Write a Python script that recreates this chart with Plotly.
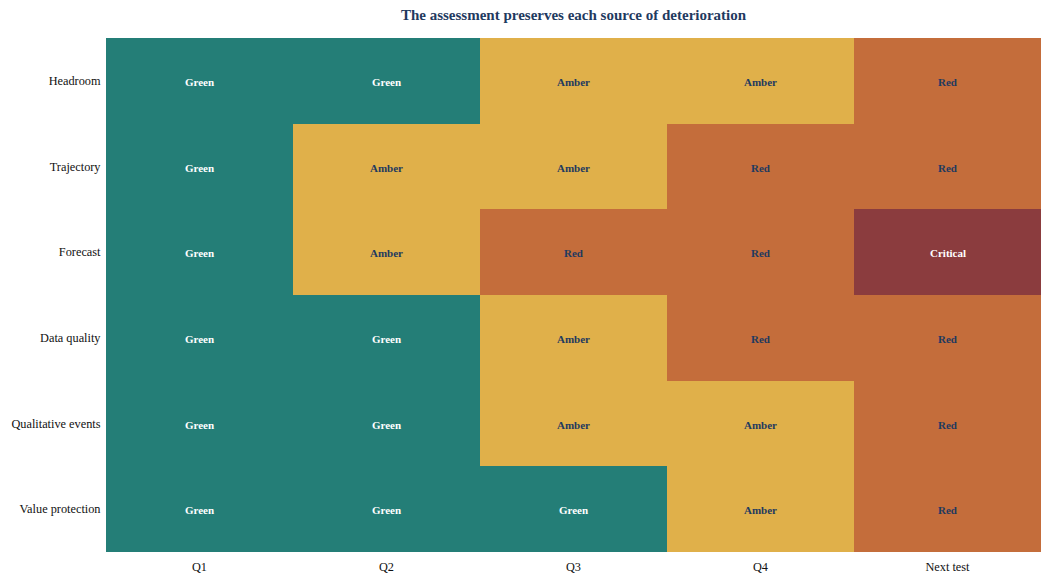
import plotly.graph_objects as go

quarters = ["Q1", "Q2", "Q3", "Q4", "Next test"]
sources = ["Headroom", "Trajectory", "Forecast", "Data quality",
           "Qualitative events", "Value protection"]

# rating per source, one entry per quarter
ratings = [
    ["Green", "Green", "Amber", "Amber", "Red"],
    ["Green", "Amber", "Amber", "Red", "Red"],
    ["Green", "Amber", "Red", "Red", "Critical"],
    ["Green", "Green", "Amber", "Red", "Red"],
    ["Green", "Green", "Amber", "Amber", "Red"],
    ["Green", "Green", "Green", "Amber", "Red"],
]

levels = ["Green", "Amber", "Red", "Critical"]
level_colors = ["#247e77", "#e0b04a", "#c46d3b", "#8b3c3e"]
text_colors = {"Green": "#ffffff", "Amber": "#1f3a5f",
               "Red": "#1f3a5f", "Critical": "#ffffff"}

z = [[levels.index(r) for r in row] for row in ratings]

n = len(levels)
colorscale = []
for i, c in enumerate(level_colors):
    colorscale.append([i / n, c])
    colorscale.append([(i + 1) / n, c])

fig = go.Figure()
fig.add_trace(go.Heatmap(
    z=z, x=quarters, y=sources,
    zmin=-0.5, zmax=n - 0.5,
    colorscale=colorscale, showscale=False,
    xgap=0, ygap=0, hoverinfo="skip",
))

for i, src in enumerate(sources):
    for j, q in enumerate(quarters):
        r = ratings[i][j]
        fig.add_annotation(x=q, y=src, text="<b>" + r + "</b>", showarrow=False,
                           yshift=-1,
                           font=dict(size=11, color=text_colors[r],
                                     family="Liberation Serif"))

fig.update_layout(
    width=1050, height=579,
    margin=dict(l=98, r=17, t=30, b=35, autoexpand=False),
    paper_bgcolor="white", plot_bgcolor="white",
    font=dict(family="Liberation Serif", size=12.3, color="#111111"),
    title=dict(text="<b>The assessment preserves each source of deterioration</b>",
               x=0.5386, xanchor="center", y=0.988, yanchor="middle",
               font=dict(size=15, color="#1f3a5f")),
)
fig.update_xaxes(showgrid=False, zeroline=False, showline=False, automargin=False,
                 ticks="outside", ticklen=3, tickcolor="white")
fig.update_yaxes(showgrid=False, zeroline=False, showline=False, automargin=False,
                 ticks="outside", ticklen=2, tickcolor="white",
                 autorange="reversed")

fig.write_html("out.html")
